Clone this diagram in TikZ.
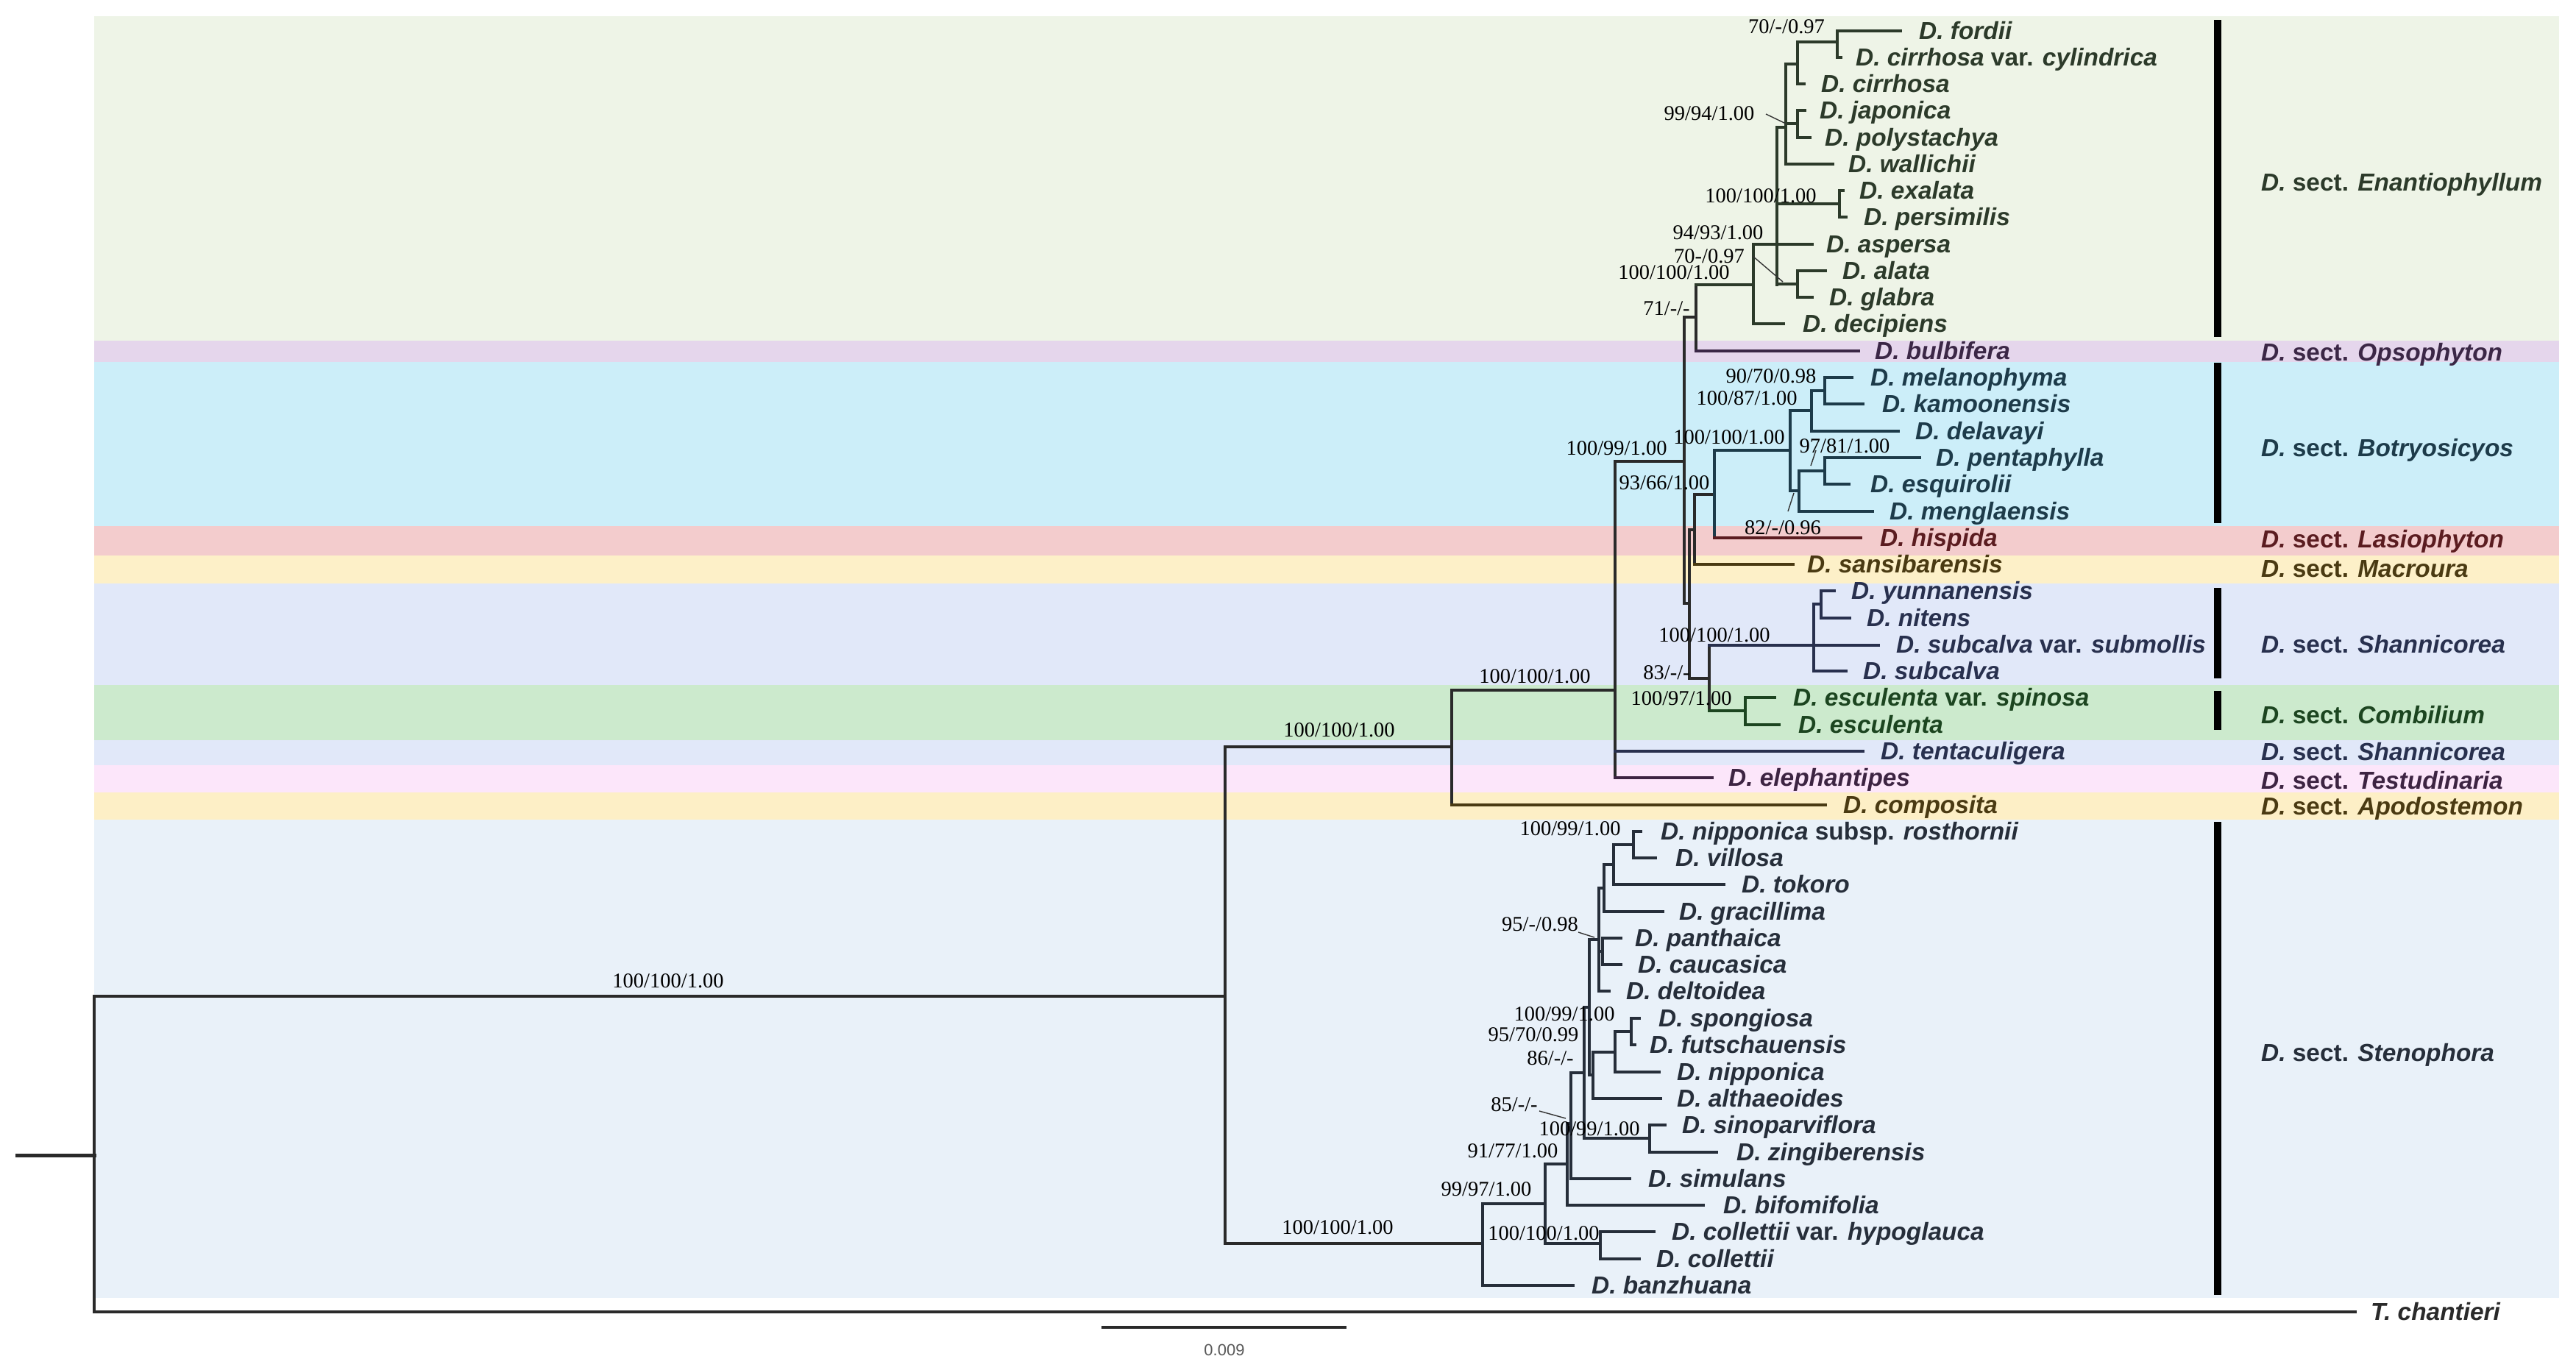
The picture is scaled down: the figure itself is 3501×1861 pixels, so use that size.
\documentclass[tikz,border=0pt]{standalone}
\usepackage{fontspec}
\setmainfont{Liberation Sans}
\newfontfamily\supfam{Liberation Serif}
\definecolor{bEn}{HTML}{EEF4E7}
\definecolor{bOp}{HTML}{E5D6EC}
\definecolor{bBo}{HTML}{CCEEF9}
\definecolor{bLa}{HTML}{F3CCCD}
\definecolor{bMa}{HTML}{FDF0C8}
\definecolor{bSh}{HTML}{E1E8F9}
\definecolor{bCo}{HTML}{CCEACD}
\definecolor{bTe}{HTML}{FCE6FA}
\definecolor{bAp}{HTML}{FDEFC6}
\definecolor{bSt}{HTML}{E9F1F9}
\definecolor{cEn}{HTML}{2C3A2A}
\definecolor{cOp}{HTML}{3B2746}
\definecolor{cBo}{HTML}{1D3B4A}
\definecolor{cLa}{HTML}{5B1C20}
\definecolor{cMa}{HTML}{4A3A12}
\definecolor{cSh}{HTML}{28304E}
\definecolor{cCo}{HTML}{1C4520}
\definecolor{cTe}{HTML}{3D2442}
\definecolor{cAp}{HTML}{4A3A12}
\definecolor{cSt}{HTML}{262E3A}
\definecolor{cBk}{HTML}{2A2A2A}
\begin{document}
\begin{tikzpicture}[x=1pt,y=-1pt,
  br/.style={line width=3.2pt, line cap=rect, draw=cBk},
  tip/.style={anchor=base west, inner sep=0pt, font=\fontsize{33.4}{40}\selectfont\bfseries\itshape},
  sect/.style={anchor=base west, inner sep=0pt, font=\fontsize{33.4}{40}\selectfont\bfseries},
  sup/.style={anchor=base, inner sep=0pt, font=\supfam\fontsize{28.5}{34}\selectfont, text=black},
  lead/.style={line width=1.4pt, draw=black!80},
  bar/.style={line width=10pt, draw=black}]
\useasboundingbox (0,0) rectangle (3501,1861);
\fill[white] (0,0) rectangle (3501,1861);
% bands
\fill[bEn] (128,22) rectangle (3478,463);
\fill[bOp] (128,463) rectangle (3478,492);
\fill[bBo] (128,492) rectangle (3478,715);
\fill[bLa] (128,715) rectangle (3478,755);
\fill[bMa] (128,755) rectangle (3478,793);
\fill[bSh] (128,793) rectangle (3478,931);
\fill[bCo] (128,931) rectangle (3478,1006);
\fill[bSh] (128,1006) rectangle (3478,1040);
\fill[bTe] (128,1040) rectangle (3478,1077);
\fill[bAp] (128,1077) rectangle (3478,1114);
\fill[bSt] (128,1114) rectangle (3478,1764);
% backbone
\draw[br, line width=5pt] (23,1570) -- (128,1570);
\draw[br] (128,1354) -- (128,1783);
\draw[br] (128,1354) -- (1665,1354);
\draw[br, line width=4.2pt] (128,1783) -- (3201,1783);
\draw[br] (1665,1015) -- (1665,1690);
\draw[br] (1665,1015) -- (1973,1015);
\draw[br] (1665,1690) -- (2015,1690);
\draw[br] (1973,938) -- (1973,1094);
\draw[br] (1973,938) -- (2195,938);
\draw[br, draw=cAp] (1973,1094) -- (2481,1094);
\draw[br] (2195,627) -- (2195,1057);
\draw[br] (2195,627) -- (2289,627);
\draw[br, draw=cSh] (2195,1021) -- (2532,1021);
\draw[br, draw=cTe] (2195,1057) -- (2327,1057);
\draw[br] (2289,431) -- (2289,820);
\draw[br] (2289,431) -- (2305,431);
\draw[br] (2289,820) -- (2296,820);
\draw[br] (2305,387) -- (2305,477);
\draw[br, draw=cOp] (2305,477) -- (2526,477);
% Enantiophyllum
\draw[br,draw=cEn] (2305,387) -- (2383,387);
\draw[br,draw=cEn] (2383,332) -- (2383,440);
\draw[br,draw=cEn] (2383,332) -- (2463,332);
\draw[br,draw=cEn] (2383,440) -- (2424,440);
\draw[br,draw=cEn] (2415,173) -- (2415,387);
\draw[br,draw=cEn] (2415,173) -- (2427,173);
\draw[br,draw=cEn] (2427,87) -- (2427,223);
\draw[br,draw=cEn] (2427,87) -- (2443,87);
\draw[br,draw=cEn] (2427,168) -- (2443,168);
\draw[br,draw=cEn] (2427,223) -- (2491,223);
\draw[br,draw=cEn] (2443,57) -- (2443,114);
\draw[br,draw=cEn] (2443,57) -- (2497,57);
\draw[br,draw=cEn] (2443,114) -- (2452,114);
\draw[br,draw=cEn] (2497,42) -- (2497,78);
\draw[br,draw=cEn] (2497,42) -- (2583,42);
\draw[br,draw=cEn] (2497,78) -- (2502,78);
\draw[br,draw=cEn] (2443,150) -- (2443,187);
\draw[br,draw=cEn] (2443,150) -- (2453,150);
\draw[br,draw=cEn] (2443,187) -- (2460,187);
\draw[br,draw=cEn] (2415,277) -- (2500,277);
\draw[br,draw=cEn] (2500,259) -- (2500,295);
\draw[br,draw=cEn] (2500,259) -- (2505,259);
\draw[br,draw=cEn] (2500,295) -- (2509,295);
\draw[br,draw=cEn] (2415,386) -- (2443,386);
\draw[br,draw=cEn] (2443,368) -- (2443,404);
\draw[br,draw=cEn] (2443,368) -- (2481,368);
\draw[br,draw=cEn] (2443,404) -- (2463,404);
% Botryosicyos / Lasiophyton / Macroura
\draw[br] (2296,720) -- (2296,922);
\draw[br] (2296,720) -- (2303,720);
\draw[br] (2296,922) -- (2323,922);
\draw[br] (2303,672) -- (2303,767);
\draw[br] (2303,672) -- (2330,672);
\draw[br, draw=cMa] (2303,767) -- (2437,767);
\draw[br, draw=cBo] (2330,612) -- (2330,731);
\draw[br, draw=cBo] (2330,612) -- (2433,612);
\draw[br, draw=cLa] (2330,731) -- (2529,731);
\draw[br, draw=cBo] (2433,558) -- (2433,667);
\draw[br, draw=cBo] (2433,558) -- (2462,558);
\draw[br, draw=cBo] (2433,667) -- (2445,667);
\draw[br, draw=cBo] (2462,531) -- (2462,586);
\draw[br, draw=cBo] (2462,531) -- (2480,531);
\draw[br, draw=cBo] (2462,586) -- (2580,586);
\draw[br, draw=cBo] (2480,513) -- (2480,549);
\draw[br, draw=cBo] (2480,513) -- (2517,513);
\draw[br, draw=cBo] (2480,549) -- (2532,549);
\draw[br, draw=cBo] (2445,640) -- (2445,695);
\draw[br, draw=cBo] (2445,640) -- (2480,640);
\draw[br, draw=cBo] (2445,695) -- (2545,695);
\draw[br, draw=cBo] (2480,622) -- (2480,658);
\draw[br, draw=cBo] (2480,622) -- (2609,622);
\draw[br, draw=cBo] (2480,658) -- (2513,658);
% Shannicorea / Combilium
\draw[br] (2323,877) -- (2323,966);
\draw[br, draw=cSh] (2323,877) -- (2465,877);
\draw[br, draw=cCo] (2323,966) -- (2372,966);
\draw[br, draw=cSh] (2465,821) -- (2465,912);
\draw[br, draw=cSh] (2465,821) -- (2475,821);
\draw[br, draw=cSh] (2465,877) -- (2553,877);
\draw[br, draw=cSh] (2465,912) -- (2509,912);
\draw[br, draw=cSh] (2475,803) -- (2475,840);
\draw[br, draw=cSh] (2475,803) -- (2493,803);
\draw[br, draw=cSh] (2475,840) -- (2514,840);
\draw[br, draw=cCo] (2372,948) -- (2372,985);
\draw[br, draw=cCo] (2372,948) -- (2412,948);
\draw[br, draw=cCo] (2372,985) -- (2418,985);
% Stenophora
\draw[br, draw=cSt] (2015,1636) -- (2015,1747);
\draw[br, draw=cSt] (2015,1636) -- (2100,1636);
\draw[br, draw=cSt] (2015,1747) -- (2138,1747);
\draw[br, draw=cSt] (2100,1582) -- (2100,1690);
\draw[br, draw=cSt] (2100,1582) -- (2130,1582);
\draw[br, draw=cSt] (2100,1690) -- (2175,1690);
\draw[br, draw=cSt] (2175,1674) -- (2175,1711);
\draw[br, draw=cSt] (2175,1674) -- (2248,1674);
\draw[br, draw=cSt] (2175,1711) -- (2228,1711);
\draw[br, draw=cSt] (2130,1527) -- (2130,1638);
\draw[br, draw=cSt] (2130,1527) -- (2135,1527);
\draw[br, draw=cSt] (2130,1638) -- (2315,1638);
\draw[br, draw=cSt] (2135,1458) -- (2135,1602);
\draw[br, draw=cSt] (2135,1458) -- (2153,1458);
\draw[br, draw=cSt] (2135,1602) -- (2215,1602);
\draw[br, draw=cSt] (2153,1369) -- (2153,1547);
\draw[br, draw=cSt] (2153,1369) -- (2160,1369);
\draw[br, draw=cSt] (2153,1547) -- (2242,1547);
\draw[br, draw=cSt] (2242,1529) -- (2242,1566);
\draw[br, draw=cSt] (2242,1529) -- (2263,1529);
\draw[br, draw=cSt] (2242,1566) -- (2333,1566);
\draw[br, draw=cSt] (2160,1277) -- (2160,1461);
\draw[br, draw=cSt] (2160,1277) -- (2173,1277);
\draw[br, draw=cSt] (2160,1461) -- (2165,1461);
\draw[br, draw=cSt] (2165,1430) -- (2165,1493);
\draw[br, draw=cSt] (2165,1430) -- (2195,1430);
\draw[br, draw=cSt] (2165,1493) -- (2257,1493);
\draw[br, draw=cSt] (2195,1402) -- (2195,1457);
\draw[br, draw=cSt] (2195,1402) -- (2217,1402);
\draw[br, draw=cSt] (2195,1457) -- (2255,1457);
\draw[br, draw=cSt] (2217,1384) -- (2217,1420);
\draw[br, draw=cSt] (2217,1384) -- (2228,1384);
\draw[br, draw=cSt] (2217,1420) -- (2222,1420);
\draw[br, draw=cSt] (2173,1207) -- (2173,1347);
\draw[br, draw=cSt] (2173,1207) -- (2180,1207);
\draw[br, draw=cSt] (2173,1293) -- (2178,1293);
\draw[br, draw=cSt] (2173,1347) -- (2187,1347);
\draw[br, draw=cSt] (2178,1275) -- (2178,1311);
\draw[br, draw=cSt] (2178,1275) -- (2203,1275);
\draw[br, draw=cSt] (2178,1311) -- (2203,1311);
\draw[br, draw=cSt] (2180,1175) -- (2180,1239);
\draw[br, draw=cSt] (2180,1175) -- (2193,1175);
\draw[br, draw=cSt] (2180,1239) -- (2260,1239);
\draw[br, draw=cSt] (2193,1148) -- (2193,1202);
\draw[br, draw=cSt] (2193,1148) -- (2220,1148);
\draw[br, draw=cSt] (2193,1202) -- (2343,1202);
\draw[br, draw=cSt] (2220,1130) -- (2220,1166);
\draw[br, draw=cSt] (2220,1130) -- (2230,1130);
\draw[br, draw=cSt] (2220,1166) -- (2250,1166);
% leaders
\draw[lead] (2400,155) -- (2427,168);
\draw[lead] (2382,348) -- (2423,383);
\draw[lead] (2468,612) -- (2461,633);
\draw[lead] (2430,695) -- (2438,670);
\draw[lead] (2145,1267) -- (2167,1274);
\draw[lead] (2092,1510) -- (2128,1520);
% section bars
\draw[bar] (3014,27) -- (3014,458);
\draw[bar] (3014,493) -- (3014,711);
\draw[bar] (3014,799) -- (3014,922);
\draw[bar] (3014,939) -- (3014,992);
\draw[bar] (3014,1117) -- (3014,1760);
% scale bar
\draw[br, line width=3.4pt] (1499,1804) -- (1828,1804);
\node[anchor=base, inner sep=0pt, font=\fontsize{22}{26}\selectfont, text=black!65] (scale) at (1664,1842) {0.009};
% tip labels
\node[tip,text=cEn] (t1) at (2608,53) {D. fordii};
\node[tip,text=cEn] (t2) at (2522,89) {D. cirrhosa {\upshape var.} cylindrica};
\node[tip,text=cEn] (t3) at (2475,125) {D. cirrhosa};
\node[tip,text=cEn] (t4) at (2473,161) {D. japonica};
\node[tip,text=cEn] (t5) at (2480,198) {D. polystachya};
\node[tip,text=cEn] (t6) at (2512,234) {D. wallichii};
\node[tip,text=cEn] (t7) at (2527,270) {D. exalata};
\node[tip,text=cEn] (t8) at (2533,306) {D. persimilis};
\node[tip,text=cEn] (t9) at (2482,343) {D. aspersa};
\node[tip,text=cEn] (t10) at (2504,379) {D. alata};
\node[tip,text=cEn] (t11) at (2486,415) {D. glabra};
\node[tip,text=cEn] (t12) at (2450,451) {D. decipiens};
\node[tip,text=cOp] (t13) at (2548,488) {D. bulbifera};
\node[tip,text=cBo] (t14) at (2542,524) {D. melanophyma};
\node[tip,text=cBo] (t15) at (2558,560) {D. kamoonensis};
\node[tip,text=cBo] (t16) at (2603,597) {D. delavayi};
\node[tip,text=cBo] (t17) at (2631,633) {D. pentaphylla};
\node[tip,text=cBo] (t18) at (2542,669) {D. esquirolii};
\node[tip,text=cBo] (t19) at (2568,706) {D. menglaensis};
\node[tip,text=cLa] (t20) at (2555,742) {D. hispida};
\node[tip,text=cMa] (t21) at (2456,778) {D. sansibarensis};
\node[tip,text=cSh] (t22) at (2516,814) {D. yunnanensis};
\node[tip,text=cSh] (t23) at (2537,851) {D. nitens};
\node[tip,text=cSh] (t24) at (2577,887) {D. subcalva {\upshape var.} submollis};
\node[tip,text=cSh] (t25) at (2532,923) {D. subcalva};
\node[tip,text=cCo] (t26) at (2437,959) {D. esculenta {\upshape var.} spinosa};
\node[tip,text=cCo] (t27) at (2444,996) {D. esculenta};
\node[tip,text=cSh] (t28) at (2556,1032) {D. tentaculigera};
\node[tip,text=cTe] (t29) at (2349,1068) {D. elephantipes};
\node[tip,text=cAp] (t30) at (2505,1105) {D. composita};
\node[tip,text=cSt] (t31) at (2257,1141) {D. nipponica {\upshape subsp.} rosthornii};
\node[tip,text=cSt] (t32) at (2277,1177) {D. villosa};
\node[tip,text=cSt] (t33) at (2367,1213) {D. tokoro};
\node[tip,text=cSt] (t34) at (2282,1250) {D. gracillima};
\node[tip,text=cSt] (t35) at (2222,1286) {D. panthaica};
\node[tip,text=cSt] (t36) at (2226,1322) {D. caucasica};
\node[tip,text=cSt] (t37) at (2210,1358) {D. deltoidea};
\node[tip,text=cSt] (t38) at (2254,1395) {D. spongiosa};
\node[tip,text=cSt] (t39) at (2242,1431) {D. futschauensis};
\node[tip,text=cSt] (t40) at (2279,1468) {D. nipponica};
\node[tip,text=cSt] (t41) at (2279,1504) {D. althaeoides};
\node[tip,text=cSt] (t42) at (2286,1540) {D. sinoparviflora};
\node[tip,text=cSt] (t43) at (2360,1577) {D. zingiberensis};
\node[tip,text=cSt] (t44) at (2240,1613) {D. simulans};
\node[tip,text=cSt] (t45) at (2342,1649) {D. bifomifolia};
\node[tip,text=cSt] (t46) at (2272,1685) {D. collettii {\upshape var.} hypoglauca};
\node[tip,text=cSt] (t47) at (2251,1722) {D. collettii};
\node[tip,text=cSt] (t48) at (2163,1758) {D. banzhuana};
\node[tip,text=cBk] (t49) at (3222,1794) {T. chantieri};
% section labels
\node[sect,text=cEn] (s1) at (3073,259) {\textit{D.} sect. \textit{Enantiophyllum}};
\node[sect,text=cOp] (s2) at (3073,490) {\textit{D.} sect. \textit{Opsophyton}};
\node[sect,text=cBo] (s3) at (3073,620) {\textit{D.} sect. \textit{Botryosicyos}};
\node[sect,text=cLa] (s4) at (3073,744) {\textit{D.} sect. \textit{Lasiophyton}};
\node[sect,text=cMa] (s5) at (3073,784) {\textit{D.} sect. \textit{Macroura}};
\node[sect,text=cSh] (s6) at (3073,887) {\textit{D.} sect. \textit{Shannicorea}};
\node[sect,text=cCo] (s7) at (3073,983) {\textit{D.} sect. \textit{Combilium}};
\node[sect,text=cSh] (s8) at (3073,1033) {\textit{D.} sect. \textit{Shannicorea}};
\node[sect,text=cTe] (s9) at (3073,1072) {\textit{D.} sect. \textit{Testudinaria}};
\node[sect,text=cAp] (s10) at (3073,1107) {\textit{D.} sect. \textit{Apodostemon}};
\node[sect,text=cSt] (s11) at (3073,1442) {\textit{D.} sect. \textit{Stenophora}};
% support values
\node[sup] (b1) at (908,1342) {100/100/1.00};
\node[sup] (b2) at (1820,1001) {100/100/1.00};
\node[sup] (b3) at (1818,1677) {100/100/1.00};
\node[sup] (b4) at (2086,928) {100/100/1.00};
\node[sup] (b5) at (2197,618) {100/99/1.00};
\node[sup] (b6) at (2262,665) {93/66/1.00};
\node[sup] (b7) at (2350,603) {100/100/1.00};
\node[sup] (b8) at (2407,520) {90/70/0.98};
\node[sup] (b9) at (2374,550) {100/87/1.00};
\node[sup] (b10) at (2507,615) {97/81/1.00};
\node[sup] (b11) at (2423,726) {82/-/0.96};
\node[sup] (b12) at (2265,428) {71/-/-};
\node[sup] (b13) at (2275,379) {100/100/1.00};
\node[sup] (b14) at (2323,357) {70-/0.97};
\node[sup] (b15) at (2335,325) {94/93/1.00};
\node[sup] (b16) at (2393,275) {100/100/1.00};
\node[sup] (b17) at (2323,163) {99/94/1.00};
\node[sup] (b18) at (2428,45) {70/-/0.97};
\node[sup] (b19) at (2265,923) {83/-/-};
\node[sup] (b20) at (2330,872) {100/100/1.00};
\node[sup] (b21) at (2285,958) {100/97/1.00};
\node[sup] (b22) at (2134,1135) {100/99/1.00};
\node[sup] (b23) at (2093,1265) {95/-/0.98};
\node[sup] (b24) at (2126,1387) {100/99/1.00};
\node[sup] (b25) at (2084,1415) {95/70/0.99};
\node[sup] (b26) at (2107,1447) {86/-/-};
\node[sup] (b27) at (2058,1510) {85/-/-};
\node[sup] (b28) at (2160,1543) {100/99/1.00};
\node[sup] (b29) at (2056,1573) {91/77/1.00};
\node[sup] (b30) at (2020,1625) {99/97/1.00};
\node[sup] (b31) at (2098,1685) {100/100/1.00};
\end{tikzpicture}
\end{document}
